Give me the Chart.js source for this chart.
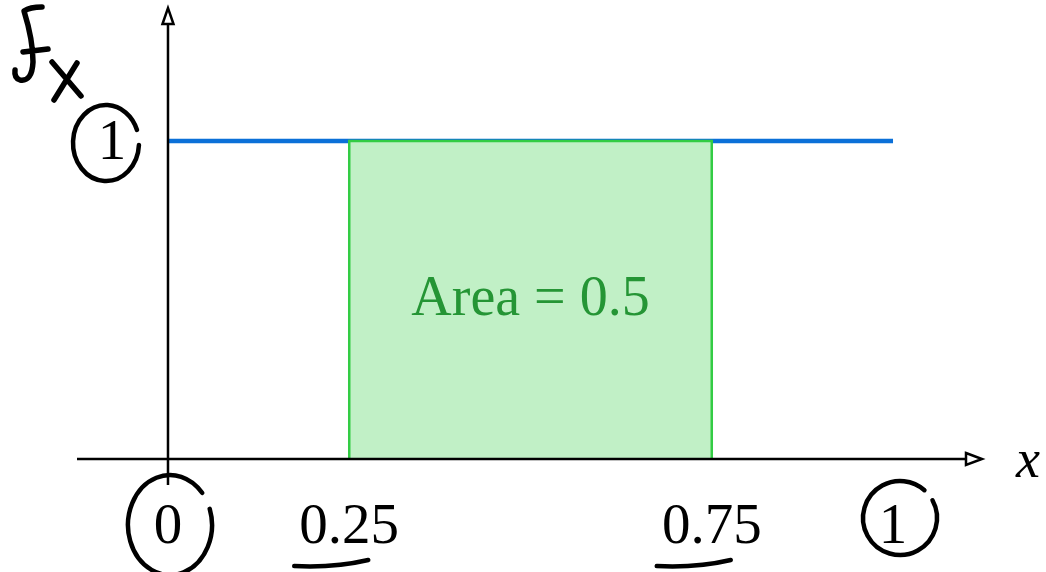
<!DOCTYPE html>
<html>
<head>
<meta charset="utf-8">
<script src="https://cdn.jsdelivr.net/npm/chart.js@4.4.1/dist/chart.umd.min.js"></script>
<style>
  html, body { margin: 0; padding: 0; background: #fff; }
  #wrap { width: 1046px; height: 572px; position: relative; }
</style>
</head>
<body>
<div id="wrap"><canvas id="pdfChart"></canvas></div>
<script>
// Uniform density on [0, 1]
const pdfX = [0, 1];
const pdfY = [1, 1];

// Shaded area P(0.25 < X < 0.75)
const areaX = [0.25, 0.25, 0.75, 0.75];
const areaY = [0, 1, 1, 0];
const areaLabel = "Area = 0.5";

// Tick labels
const xTickValues = [0, 0.25, 0.75, 1];
const xTickLabels = ["0", "0.25", "0.75", "1"];
const yTickValues = [1];
const yTickLabels = ["1"];
const circledX = [0, 1];
const underlinedX = [0.25, 0.75];

const toPoints = (xs, ys) => xs.map((x, i) => ({ x: x, y: ys[i] }));

// hand-drawn ellipse with a small gap
function scribbleCircle(ctx, cx, cy, rx, ry, start, end) {
  ctx.beginPath();
  ctx.ellipse(cx, cy, rx, ry, 0, start, end);
  ctx.stroke();
}

const sketchPlugin = {
  id: "sketch",
  afterDatasetsDraw(chart) {
    const ctx = chart.ctx;
    const xs = chart.scales.x;
    const ys = chart.scales.y;
    const x0 = xs.getPixelForValue(0);
    const y0 = ys.getPixelForValue(0);
    ctx.save();

    // axes
    ctx.strokeStyle = "#000";
    ctx.lineWidth = 2.5;
    ctx.beginPath();
    ctx.moveTo(77, y0);
    ctx.lineTo(966, y0);
    ctx.moveTo(x0, y0 + 26);
    ctx.lineTo(x0, 24);
    ctx.stroke();
    // open arrow heads
    ctx.fillStyle = "#fff";
    ctx.beginPath();
    ctx.moveTo(966, y0 - 6);
    ctx.lineTo(982, y0);
    ctx.lineTo(966, y0 + 6);
    ctx.closePath();
    ctx.fill();
    ctx.stroke();
    ctx.beginPath();
    ctx.moveTo(x0 - 5.5, 24);
    ctx.lineTo(x0, 8);
    ctx.lineTo(x0 + 5.5, 24);
    ctx.closePath();
    ctx.fill();
    ctx.stroke();

    // area label
    ctx.fillStyle = "#259535";
    ctx.font = "56px 'Liberation Serif', serif";
    ctx.textAlign = "center";
    ctx.textBaseline = "middle";
    ctx.fillText(areaLabel, xs.getPixelForValue(0.5), ys.getPixelForValue(0.5));

    // tick labels
    ctx.fillStyle = "#000";
    ctx.font = "57px 'Liberation Serif', serif";
    ctx.textBaseline = "alphabetic";
    xTickValues.forEach((v, i) => {
      ctx.fillText(xTickLabels[i], xs.getPixelForValue(v), y0 + 84);
    });
    yTickValues.forEach((v, i) => {
      ctx.fillText(yTickLabels[i], 112, ys.getPixelForValue(v) + 18);
    });

    // axis name
    ctx.font = "italic 54px 'Liberation Serif', serif";
    ctx.fillText("x", 1028, y0 + 18);

    // hand annotations
    ctx.lineWidth = 4.5;
    ctx.lineCap = "round";
    ctx.lineJoin = "round";
    ctx.strokeStyle = "#000";

    const y1 = ys.getPixelForValue(1);
    scribbleCircle(ctx, 106, y1 + 2, 33, 38, 0.05, Math.PI * 2 - 0.35);

    circledX.forEach((v) => {
      const px = xs.getPixelForValue(v);
      if (v === 0) {
        scribbleCircle(ctx, px + 2, y0 + 66, 42, 50, -0.33, Math.PI * 2 - 0.7);
      } else {
        scribbleCircle(ctx, px + 7, y0 + 59, 37, 37, -0.5, Math.PI * 2 - 0.85);
      }
    });

    underlinedX.forEach((v) => {
      const px = xs.getPixelForValue(v);
      ctx.beginPath();
      ctx.moveTo(px - 55, y0 + 107);
      ctx.quadraticCurveTo(px - 15, y0 + 109, px + 19, y0 + 101);
      ctx.stroke();
    });

    // f_X
    ctx.lineWidth = 5.5;
    ctx.beginPath();
    ctx.moveTo(42, 7);
    ctx.quadraticCurveTo(30, 7, 24, 11);
    ctx.quadraticCurveTo(33, 40, 33, 62);
    ctx.quadraticCurveTo(32, 82, 20, 80);
    ctx.quadraticCurveTo(14, 78, 15, 70);
    ctx.moveTo(23, 52);
    ctx.lineTo(48, 49);
    ctx.moveTo(52, 62);
    ctx.lineTo(81, 96);
    ctx.moveTo(77, 63);
    ctx.lineTo(54, 100);
    ctx.stroke();

    ctx.restore();
  },
};

new Chart(document.getElementById("pdfChart"), {
  type: "scatter",
  data: {
    datasets: [
      {
        label: "Area",
        data: toPoints(areaX, areaY),
        showLine: true,
        borderColor: "#33cc44",
        backgroundColor: "#c1f0c6",
        borderWidth: 2.5,
        fill: "origin",
        pointRadius: 0,
        tension: 0,
      },
      {
        label: "f_X",
        data: toPoints(pdfX, pdfY),
        showLine: true,
        borderColor: "#0b70d8",
        borderWidth: 4.5,
        fill: false,
        pointRadius: 0,
        tension: 0,
      },
    ],
  },
  options: {
    responsive: true,
    maintainAspectRatio: false,
    animation: false,
    layout: { padding: 0 },
    plugins: {
      legend: { display: false },
      tooltip: { enabled: false },
    },
    scales: {
      x: { type: "linear", display: false, min: -0.2317, max: 1.2110 },
      y: { type: "linear", display: false, min: -0.3553, max: 1.4434 },
    },
  },
  plugins: [sketchPlugin],
});
</script>
</body>
</html>
